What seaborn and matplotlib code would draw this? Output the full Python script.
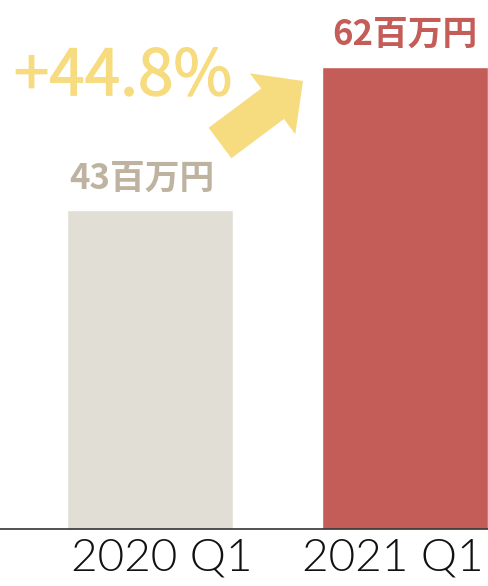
import matplotlib
matplotlib.use("Agg")
import matplotlib.pyplot as plt
import matplotlib.patheffects as pe
from matplotlib.patches import FancyArrow
from matplotlib.transforms import IdentityTransform, ScaledTranslation
import seaborn as sns
import pandas as pd

# DATA

periods = ["2020 Q1", "2021 Q1"]
values = [42.9, 62.1]
value_labels = ["43百万円", "62百万円"]
growth_label = "+44.8%"

bar_colors = ["#E0DED5", "#C45C58"]
label_colors = ["#BEB2A0", "#C45C58"]
accent = "#F6DC7E"

sns.set_theme(style="white")
plt.rcParams['font.family'] = ['Noto Sans CJK JP', 'DejaVu Sans']

df = pd.DataFrame({"period": periods, "value": values})

fig = plt.figure(figsize=(4.88, 5.86), dpi=100)
ax = fig.add_axes([0, 57 / 586, 1, 529 / 586])

sns.barplot(data=df, x="period", y="value", hue="period",
            palette=bar_colors, width=0.65, saturation=1,
            legend=False, ax=ax)

ax.set_xlim(-0.588, 1.325)
ax.set_ylim(0, 71.1)
ax.set_xlabel("")
ax.set_ylabel("")
ax.set_yticks([])

for s in ["top", "right", "left"]:
    ax.spines[s].set_visible(False)
ax.spines["bottom"].set_color("#333333")
ax.spines["bottom"].set_linewidth(1.2)

ax.tick_params(axis="x", length=0, pad=6, colors="#111111")
# the reference's category labels sit a little off the bar centres
shifts = [12, -12]
for lab, dx in zip(ax.get_xticklabels(), shifts):
    lab.set_fontfamily(["Lato", "DejaVu Sans"])
    lab.set_fontweight(300)
    lab.set_fontsize(33)
    lab.set_transform(lab.get_transform() + ScaledTranslation(dx / 100, 0, fig.dpi_scale_trans))

# value labels above the bars
offsets = [(-6, 15), (0, 16)]
for i, (v, lab) in enumerate(zip(values, value_labels)):
    ax.annotate(lab, xy=(i, v), xytext=offsets[i], textcoords="offset points",
                ha="center", va="baseline", fontsize=25, fontweight="bold",
                color=label_colors[i])

# growth annotation
ax.text(0.252, 0.82, growth_label, transform=ax.transAxes, ha="center",
        va="baseline", fontsize=46, color=accent,
        path_effects=[pe.withStroke(linewidth=0.8, foreground=accent)])

arrow = FancyArrow(220, 443, 83, 62, width=38, head_width=76, head_length=38,
                   length_includes_head=True, color=accent, lw=0,
                   transform=IdentityTransform())
fig.add_artist(arrow)

plt.savefig("out.png", dpi=100)
plt.close()
